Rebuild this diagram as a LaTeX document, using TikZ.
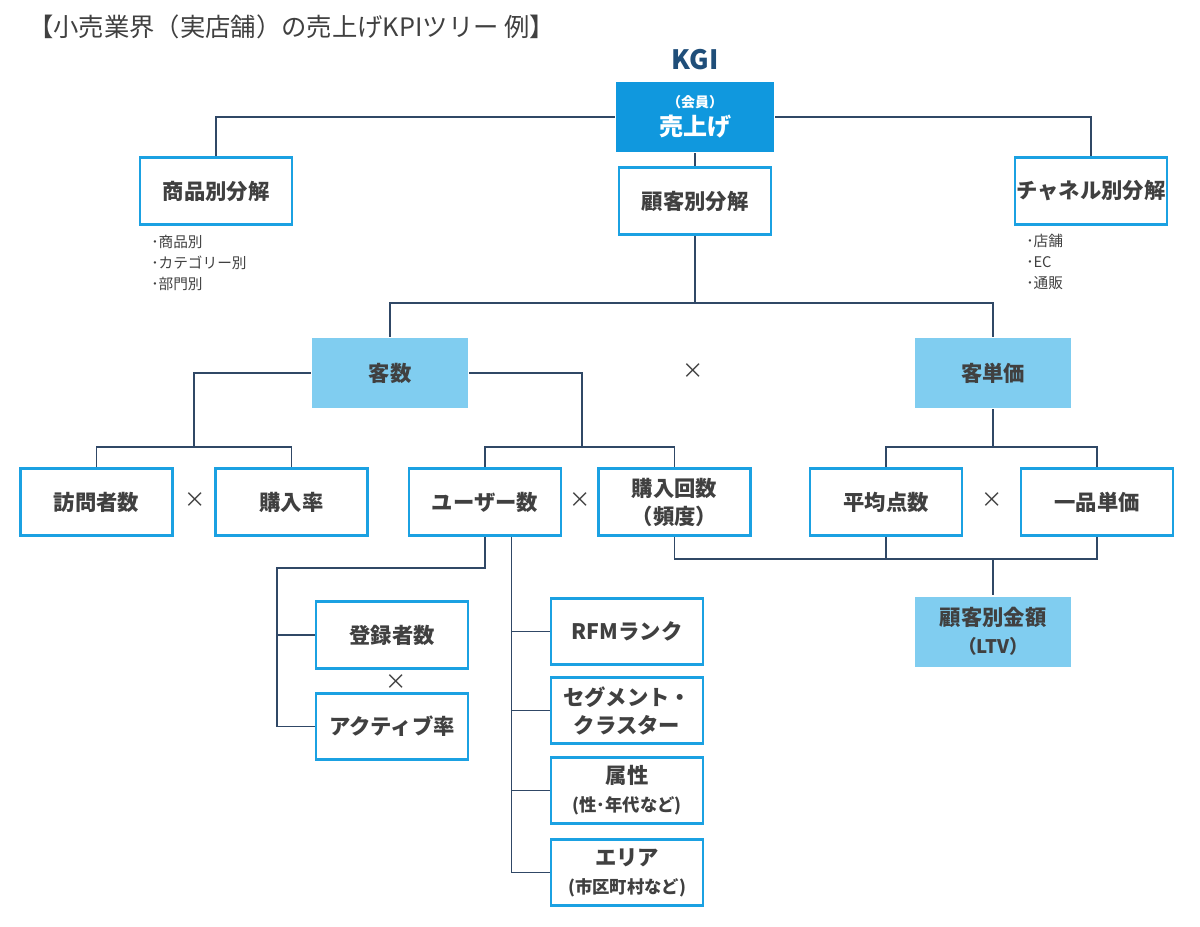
\documentclass[tikz,border=0pt]{standalone}
\usepackage{fontspec}
\setmainfont{Noto Sans CJK JP}
\usepackage{tikz}
\usetikzlibrary{positioning}

\definecolor{kpiblue}{RGB}{27,161,226}
\definecolor{kpimain}{RGB}{16,152,222}
\definecolor{kpilight}{RGB}{128,205,240}
\definecolor{kpiline}{RGB}{48,72,102}
\definecolor{kpitext}{RGB}{64,64,64}
\definecolor{kginavy}{RGB}{31,78,121}

\begin{document}
\begin{tikzpicture}[
    x=0.75pt, y=-0.75pt,
    box/.style={rectangle, draw=kpiblue, line width=2.2pt, fill=white, minimum width=114pt, minimum height=50pt, inner sep=1pt, align=center, text=kpitext, font=\bfseries\fontsize{16}{21}\selectfont},
    kgibox/.style={box, draw=none, fill=kpimain, minimum width=118.5pt, minimum height=52.5pt, text=white},
    subbox/.style={box, draw=none, fill=kpilight, minimum width=117pt, minimum height=52.5pt},
    line/.style={draw=kpiline, line width=1.1pt},
    times/.style={font=\fontsize{16}{16}\selectfont, text=kpitext},
    note/.style={anchor=north west, inner sep=0pt, align=left, text=kpitext, font=\fontsize{11}{15.75}\selectfont}
]
\useasboundingbox (0,0) rectangle (1200,926);

% Title
\node[anchor=west, inner sep=0pt, text=kpitext, font=\fontsize{19}{19}\selectfont] (title) at (28,27) {【小売業界（実店舗）の売上げKPIツリー 例】};

% Row 0: KGI
\node[text=kginavy, font=\bfseries\fontsize{20}{20}\selectfont] (kgi) at (695,60) {KGI};
\node[kgibox] (sales) at (695,117) {{\fontsize{10.5}{14}\selectfont （会員）}\\{\fontsize{18}{22}\selectfont 売上げ}};

% Row 1: decomposition
\node[box] (cust) at (695,201) {顧客別分解};
\node[box] (prod) at (216,191) {商品別分解};
\node[box] (chan) at (1091,191) {チャネル別分解};
\node[note] (prodlist) at (151,235) {･商品別\\･カテゴリー別\\･部門別};
\node[note] (chanlist) at (1026,234) {･店舗\\･EC\\･通販};

% Row 2
\node[subbox] (visits) at (390,373) {客数};
\node[subbox] (price) at (993,373) {客単価};
\node[times] (x1) at (693,371) {×};

% Row 3
\node[box] (visitor) at (96.5,502) {訪問者数};
\node[box] (buyrate) at (291.5,502) {購入率};
\node[box] (users) at (485,502) {ユーザー数};
\node[box] (freq) at (674.5,502) {購入回数\\（頻度）};
\node[box] (items) at (886,502) {平均点数};
\node[box] (unit) at (1097,502) {一品単価};
\node[times] (x2) at (195,500) {×};
\node[times] (x3) at (580,500) {×};
\node[times] (x4) at (992,500) {×};

% Row 4
\node[subbox] (ltv) at (993,631.5) {顧客別金額\\{\fontsize{14}{18}\selectfont （LTV）}};
\node[box] (members) at (392,635) {登録者数};
\node[box] (active) at (392,726.5) {アクティブ率};
\node[times] (x5) at (396,682) {×};
\node[box] (rfm) at (627,631.5) {RFMランク};
\node[box] (segment) at (627,710.5) {セグメント・\\クラスター};
\node[box] (attr) at (627,790.5) {属性\\{\fontsize{13}{17}\selectfont (性･年代など)}};
\node[box] (area) at (627,872.5) {エリア\\{\fontsize{13}{17}\selectfont (市区町村など)}};

% Junctions
\coordinate (j1) at (695,303);
\coordinate (j2) at (194,447);
\coordinate (j3) at (582,447);
\coordinate (j4) at (993,447);
\coordinate (j5) at (993,559);
\coordinate (j6) at (277,568);
\coordinate (j7) at ([xshift=20pt]users.south);

% Lines Row 0-1
\draw[line] (sales.west) -| (prod.north);
\draw[line] (sales.east) -| (chan.north);
\draw[line] (sales.south) -- (cust.north);

% Lines Row 1-2
\draw[line] (cust.south) -- (j1);
\draw[line] (visits.north) |- (j1) -| (price.north);

% Lines Row 2-3
\draw[line] (visits.west) -| (j2);
\draw[line] (visitor.north) |- (j2) -| (buyrate.north);
\draw[line] (visits.east) -| (j3);
\draw[line] (users.north) |- (j3) -| (freq.north);
\draw[line] (price.south) -- (j4);
\draw[line] (items.north) |- (j4) -| (unit.north);

% Lines Row 3-4
\draw[line] (freq.south) |- (j5) -| (unit.south);
\draw[line] (items.south) -- (items.south |- j5);
\draw[line] (j5) -- (ltv.north);
\draw[line] (users.south) |- (j6) |- (active.west);
\draw[line] (j6 |- members.west) -- (members.west);
\draw[line] (j7) |- (area.west);
\foreach \n in {rfm,segment,attr}
    \draw[line] (\n.west) -- (\n.west -| j7);

\end{tikzpicture}
\end{document}
